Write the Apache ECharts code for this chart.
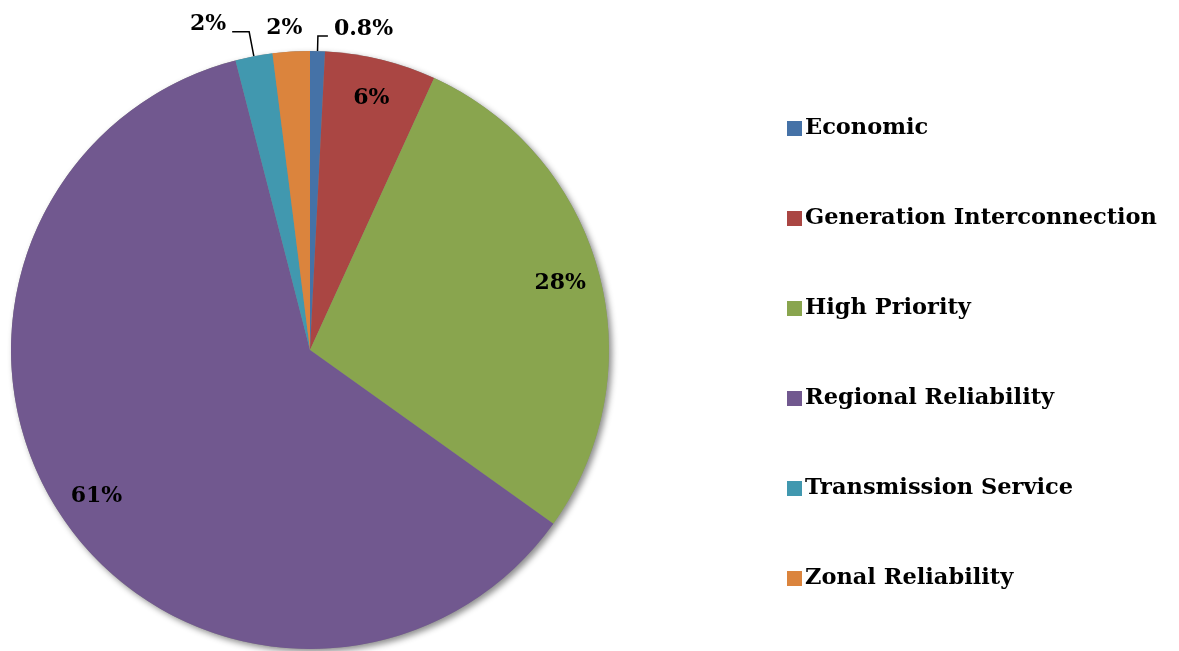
<!DOCTYPE html>
<html>
<head>
<meta charset="utf-8">
<script src="https://cdn.jsdelivr.net/npm/echarts@6/dist/echarts.min.js"></script>
<style>
  html, body { margin: 0; padding: 0; background: #fff; }
  #chart { width: 1179px; height: 651px; }
</style>
</head>
<body>
<div id="chart"></div>
<script>
// 数据
var categories = ['Economic', 'Generation Interconnection', 'High Priority', 'Regional Reliability', 'Transmission Service', 'Zonal Reliability'];
var shares = [0.8, 6, 28, 61, 2, 2];
var colors = ['#4572a7', '#aa4643', '#89a54e', '#71588f', '#4198af', '#db843d'];
// 小扇区标签放外面
var outsideNames = ['Economic', 'Transmission Service', 'Zonal Reliability'];
var lineLens = { 'Economic': [15, 10], 'Transmission Service': [25, 17], 'Zonal Reliability': [15, 0] };

var font = 'DejaVu Serif';
var total = shares.reduce(function (a, b) { return a + b; }, 0);

var mainData = categories.map(function (name, i) {
  var outside = outsideNames.indexOf(name) >= 0;
  var item = {
    name: name,
    value: shares[i],
    itemStyle: { color: colors[i] },
    label: { show: outside },
    labelLine: { show: outside && name !== 'Zonal Reliability' }
  };
  if (outside) {
    item.labelLine.length = lineLens[name][0];
    item.labelLine.length2 = lineLens[name][1];
  }
  return item;
});

var innerData = categories.map(function (name, i) {
  return {
    name: name,
    value: shares[i],
    label: { show: outsideNames.indexOf(name) < 0 }
  };
});

var chart = echarts.init(document.getElementById('chart'));
chart.setOption({
  animation: false,
  color: colors,
  legend: {
    orient: 'vertical',
    left: 782,
    top: 112,
    itemWidth: 15,
    itemHeight: 15,
    itemGap: 67,
    icon: 'rect',
    data: categories,
    textStyle: { fontFamily: font, fontWeight: 'bold', fontSize: 22.5, color: '#000', padding: [0, 0, 0, -2] }
  },
  series: [{
    // 整圆阴影底
    type: 'pie',
    center: [310, 350],
    radius: 299,
    silent: true,
    label: { show: false },
    labelLine: { show: false },
    itemStyle: {
      color: '#888',
      shadowBlur: 6,
      shadowOffsetX: 3,
      shadowOffsetY: 3,
      shadowColor: 'rgba(0,0,0,0.45)'
    },
    data: [{ name: '', value: total }]
  }, {
    type: 'pie',
    center: [310, 350],
    radius: 299,
    startAngle: 90,
    clockwise: true,
    avoidLabelOverlap: false,
    label: {
      position: 'outside',
      formatter: function (p) { return p.value + '%'; },
      fontFamily: font,
      fontWeight: 'bold',
      fontSize: 22,
      color: '#000',
      distanceToLabelLine: 6
    },
    labelLine: { lineStyle: { color: '#000', width: 1.5 } },
    labelLayout: function (p) {
      if (p.dataIndex === 5) return { align: 'center', dy: -8 };
      return { dy: -7 };
    },
    data: mainData
  }, {
    // 透明层，只用来放内部标签
    type: 'pie',
    center: [310, 350],
    radius: 512,
    startAngle: 90,
    clockwise: true,
    silent: true,
    avoidLabelOverlap: false,
    itemStyle: { color: 'rgba(0,0,0,0)' },
    label: {
      position: 'inside',
      formatter: function (p) { return p.value + '%'; },
      fontFamily: font,
      fontWeight: 'bold',
      fontSize: 22,
      color: '#000'
    },
    labelLine: { show: false },
    data: innerData
  }]
});
</script>
</body>
</html>
